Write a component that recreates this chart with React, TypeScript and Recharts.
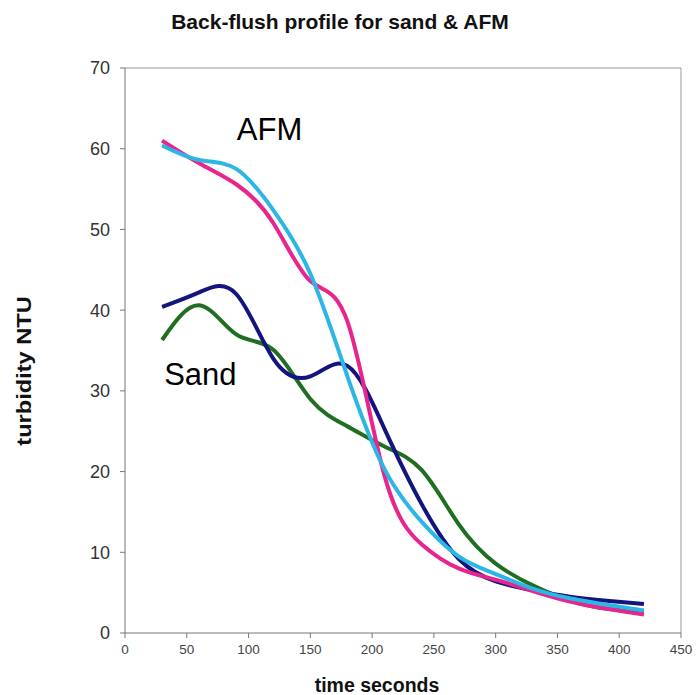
import { LineChart, Line, XAxis, YAxis, ReferenceDot, ReferenceLine } from 'recharts'

const times = [30, 60, 90, 120, 150, 180, 210, 240, 270, 300, 330, 360, 390, 420]
const afmA = [61, 58.2, 55.6, 50.8, 43.6, 38.6, 19.5, 11, 8, 6.6, 5.2, 3.9, 3, 2.3]
const afmB = [60.4, 58.6, 57.5, 52.4, 44.5, 31.8, 20.3, 13.8, 9.5, 7.3, 5.5, 4.3, 3.5, 2.8]
const sandA = [40.4, 42.2, 42, 34, 31.8, 33.1, 25.3, 16, 9.2, 6.4, 5.3, 4.5, 4, 3.6]
const sandB = [36.3, 40.6, 37, 35.1, 29, 25.6, 23.1, 20.2, 13.5, 8.6, 5.9, 4, 3, 2.6]
const xTicks = [0, 50, 100, 150, 200, 250, 300, 350, 400, 450]
const yTicks = [0, 10, 20, 30, 40, 50, 60, 70]

const rows = times.map((t, i) => ({
  t,
  afmA: afmA[i],
  afmB: afmB[i],
  sandA: sandA[i],
  sandB: sandB[i],
}))

const FONT = '"Liberation Sans", Arial, sans-serif'
const AXIS = '#777'

const boldText = {
  position: 'absolute' as const,
  fontFamily: FONT,
  fontWeight: 'bold' as const,
  color: '#111',
  whiteSpace: 'nowrap' as const,
}

export default function App() {
  return (
    <div style={{ position: 'absolute', left: 0, top: 0, width: 696, height: 695, background: '#fff' }}>
      <LineChart
        width={696}
        height={695}
        data={rows}
        margin={{ top: 68, right: 15, bottom: 2, left: 65 }}
      >
        <XAxis
          type="number"
          dataKey="t"
          domain={[0, 450]}
          ticks={xTicks}
          interval={0}
          height={60}
          stroke={AXIS}
          tick={{ fontSize: 13.5, fill: '#444', fontFamily: FONT }}
          tickSize={5}
          tickMargin={6}
        />
        <YAxis
          type="number"
          domain={[0, 70]}
          ticks={yTicks}
          interval={0}
          width={60}
          stroke={AXIS}
          tick={{ fontSize: 18, fill: '#333', fontFamily: FONT }}
          tickSize={5}
          tickMargin={10}
        />
        <ReferenceLine y={70} stroke="#999" />
        <ReferenceLine x={450} stroke="#999" />
        <Line dataKey="sandB" type="natural" stroke="#1f6e22" strokeWidth={4} dot={false} isAnimationActive={false} />
        <Line dataKey="sandA" type="natural" stroke="#14147e" strokeWidth={4} dot={false} isAnimationActive={false} />
        <Line dataKey="afmA" type="natural" stroke="#e8258f" strokeWidth={4} dot={false} isAnimationActive={false} />
        <Line dataKey="afmB" type="natural" stroke="#2bb6e6" strokeWidth={4} dot={false} isAnimationActive={false} />
        <ReferenceDot
          x={117}
          y={62.4}
          r={0}
          stroke="none"
          label={{ value: 'AFM', position: 'center', fontSize: 31, fill: '#000', fontFamily: FONT }}
        />
        <ReferenceDot
          x={61}
          y={32.1}
          r={0}
          stroke="none"
          label={{ value: 'Sand', position: 'center', fontSize: 31, fill: '#000', fontFamily: FONT }}
        />
      </LineChart>
      <div style={{ ...boldText, left: 0, width: 680, top: 10, textAlign: 'center', fontSize: 21 }}>
        Back-flush profile for sand &amp; AFM
      </div>
      <div style={{ ...boldText, left: 247, width: 260, top: 674, textAlign: 'center', fontSize: 19.5 }}>
        time seconds
      </div>
      <div
        style={{
          ...boldText,
          left: 24 - 100,
          top: 371 - 12,
          width: 200,
          height: 24,
          lineHeight: '24px',
          textAlign: 'center',
          fontSize: 20,
          transform: 'rotate(-90deg) scaleX(1.18)',
        }}
      >
        turbidity NTU
      </div>
    </div>
  )
}
